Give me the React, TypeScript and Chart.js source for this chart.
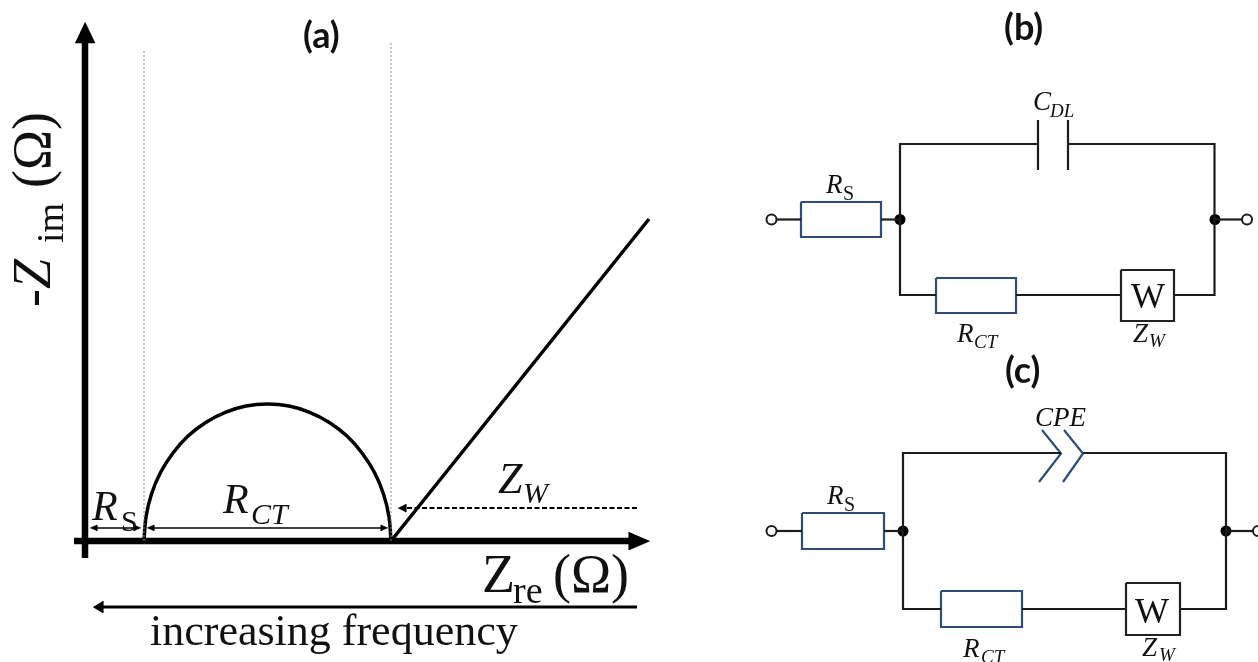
import React, { useEffect, useRef } from "react";
import { Chart, registerables } from "chart.js";

Chart.register(...registerables);

// ---- Panel (a): Nyquist plot, values in plot units (origin at the axes' crossing)
const arcZre = [59, 61, 66.5, 75.5, 88, 103, 120.7, 140.3, 161, 182.5, 204, 224.7, 244.3, 262, 277, 289.5, 298.5, 304, 306];
const arcZim = [0, 24, 47, 68.5, 88, 105, 118.6, 128.7, 135, 137, 135, 128.7, 118.6, 105, 88, 68.5, 47, 24, 0];
const warburgZre = [306, 564];
const warburgZim = [0, 322];
const xAxisZre = [-11, 546];
const xAxisZim = [0, 0];
const yAxisZre = [0, 0];
const yAxisZim = [-17, 500];
const rsGuideZre = [59, 59];
const rsGuideZim = [0, 491];
const rctGuideZre = [306, 306];
const rctGuideZim = [0, 499];

// ---- Figure-space shapes (schematic drawing, in figure units)
type P = [number, number];
const solidHeads: P[][] = [
  [[75, 43], [95, 43], [85, 22]],
  [[629, 532], [629, 550], [650, 541]],
  [[103, 601], [103, 613], [93, 607]],
  [[406, 504], [406, 512], [398, 508]],
  [[90, 528], [97, 525], [97, 531]],
  [[141, 528], [134, 525], [134, 531]],
  [[147, 528], [154, 525], [154, 531]],
  [[388, 528], [381, 525], [381, 531]],
];
const freqArrow: P[] = [[637, 607], [100, 607]];
const dashedArrow: P[] = [[637, 508], [404, 508]];
const thinArrows: P[][] = [
  [[92, 528], [139, 528]],
  [[149, 528], [386, 528]],
];

const wiresB: P[][] = [
  [[776, 219.5], [801, 219.5]],
  [[881, 219.5], [900, 219.5]],
  [[936, 295], [900, 295], [900, 144], [1038, 144]],
  [[1068, 144], [1214.5, 144], [1214.5, 295], [1174, 295]],
  [[1016, 295], [1121, 295]],
  [[1214.5, 219.5], [1243, 219.5]],
  [[1038, 120], [1038, 170]],
  [[1068, 120], [1068, 170]],
];
const wiresC: P[][] = [
  [[776, 531], [802, 531]],
  [[884, 531], [903, 531]],
  [[941, 609], [903, 609], [903, 453], [1061, 453]],
  [[1083, 453], [1226, 453], [1226, 609], [1180, 609]],
  [[1022, 609], [1126, 609]],
  [[1226, 531], [1253, 531]],
];
const resistors: P[][] = [
  [[801, 202], [881, 202], [881, 237], [801, 237], [801, 202]],
  [[936, 278], [1016, 278], [1016, 313], [936, 313], [936, 278]],
  [[802, 513], [884, 513], [884, 549], [802, 549], [802, 513]],
  [[941, 591], [1022, 591], [1022, 627], [941, 627], [941, 591]],
  [[1042, 430], [1061, 453.5], [1039, 482]],
  [[1064, 430], [1083, 453.5], [1063, 482]],
];
const warburgBoxes: P[][] = [
  [[1121, 270], [1174, 270], [1174, 321], [1121, 321], [1121, 270]],
  [[1126, 583], [1180, 583], [1180, 635], [1126, 635], [1126, 583]],
];
const junctions: P[] = [[900, 219.5], [1215, 219.5], [903, 531], [1226, 531]];
const terminals: P[] = [[771.5, 219.5], [1247, 219.5], [771.5, 531], [1258, 531]];

// ---- Text
const SERIF = '"Liberation Serif"';
const SANS = "Lato";
type T = [string, number, number, string, boolean?];
const texts: T[] = [
  ["(a)", 303, 48, `bold 36px ${SANS}`],
  ["(b)", 1004, 40, `bold 36px ${SANS}`],
  ["(c)", 1005, 383, `bold 36px ${SANS}`],
  ["-Z", 50, 307, `italic 54px ${SERIF}`, true],
  ["im", 63, 243, `38px ${SERIF}`, true],
  ["(Ω)", 50, 188, `54px ${SERIF}`, true],
  ["Z", 482, 592, `54px ${SERIF}`],
  ["re", 513, 603, `38px ${SERIF}`],
  ["(Ω)", 553, 592, `54px ${SERIF}`],
  ["increasing frequency", 150, 645, `44px ${SERIF}`],
  ["R", 92, 520, `italic 42px ${SERIF}`],
  ["S", 121, 531, `30px ${SERIF}`],
  ["R", 223, 513, `italic 42px ${SERIF}`],
  ["CT", 251, 524, `italic 30px ${SERIF}`],
  ["Z", 498, 493, `italic 44px ${SERIF}`],
  ["W", 523, 503, `italic 30px ${SERIF}`],
  ["C", 1033, 110, `italic 27px ${SERIF}`],
  ["DL", 1050, 117, `italic 19px ${SERIF}`],
  ["R", 826, 193, `italic 27px ${SERIF}`],
  ["S", 843, 200, `20px ${SERIF}`],
  ["R", 957, 342, `italic 27px ${SERIF}`],
  ["CT", 974, 348, `italic 19px ${SERIF}`],
  ["Z", 1133, 342, `italic 27px ${SERIF}`],
  ["W", 1149, 347, `italic 19px ${SERIF}`],
  ["W", 1131, 308, `36px ${SERIF}`],
  ["CPE", 1035, 426, `italic 27px ${SERIF}`],
  ["R", 827, 504, `italic 27px ${SERIF}`],
  ["S", 844, 511, `20px ${SERIF}`],
  ["R", 963, 657, `italic 27px ${SERIF}`],
  ["CT", 981, 663, `italic 19px ${SERIF}`],
  ["Z", 1142, 656, `italic 27px ${SERIF}`],
  ["W", 1159, 661, `italic 19px ${SERIF}`],
  ["W", 1135, 623, `36px ${SERIF}`],
];

const zip = (xs: number[], ys: number[]) => xs.map((x, i) => ({ x, y: ys[i] }));
const pts = (p: P[]) => p.map(([x, y]) => ({ x, y }));

const plot = (data: { x: number; y: number }[], color: string, width: number, extra: object = {}) => ({
  type: "line" as const,
  data,
  xAxisID: "x",
  yAxisID: "y",
  borderColor: color,
  borderWidth: width,
  pointRadius: 0,
  fill: false,
  tension: 0,
  clip: false,
  ...extra,
});
const fig = (p: P[], color: string, width: number, extra: object = {}) =>
  plot(pts(p), color, width, { xAxisID: "fx", yAxisID: "fy", ...extra });

const textPlugin = {
  id: "figureText",
  afterDatasetsDraw(chart: Chart) {
    const { ctx } = chart;
    ctx.save();
    ctx.fillStyle = "#111";
    ctx.textAlign = "left";
    ctx.textBaseline = "alphabetic";
    for (const [s, x, y, font, rotated] of texts) {
      ctx.save();
      ctx.font = font;
      ctx.translate(x, y);
      if (rotated) ctx.rotate(-Math.PI / 2);
      ctx.fillText(s, 0, 0);
      ctx.restore();
    }
    ctx.restore();
  },
};

const WIRE = "#1c1c1c";
const NAVY = "#2f4d78";

export default function App() {
  const ref = useRef<HTMLCanvasElement>(null);
  useEffect(() => {
    document.body.style.margin = "0";
    const chart = new Chart(ref.current as HTMLCanvasElement, {
      type: "line",
      data: {
        datasets: [
          plot(zip(rsGuideZre, rsGuideZim), "#8c8c8c", 1, { borderDash: [2, 2] }),
          plot(zip(rctGuideZre, rctGuideZim), "#8c8c8c", 1, { borderDash: [2, 2] }),
          plot(zip(yAxisZre, yAxisZim), "#000", 6.5),
          plot(zip(xAxisZre, xAxisZim), "#000", 6.5),
          plot(zip(arcZre, arcZim), "#000", 3.5, { tension: 0.4 }),
          plot(zip(warburgZre, warburgZim), "#000", 3.5),
          fig(freqArrow, "#000", 3),
          fig(dashedArrow, "#000", 2, { borderDash: [5, 2.5] }),
          ...thinArrows.map((a) => fig(a, "#000", 1.5)),
          ...solidHeads.map((h) => fig(h, "#000", 0.5, { fill: "shape", backgroundColor: "#000" })),
          ...wiresB.map((w) => fig(w, WIRE, 2.2)),
          ...wiresC.map((w) => fig(w, WIRE, 2.2)),
          ...resistors.map((r) => fig(r, NAVY, 2.2)),
          ...warburgBoxes.map((b) => fig(b, "#222", 2.2)),
          fig(junctions, "#000", 0, { showLine: false, pointRadius: 5.5, pointBackgroundColor: "#000", pointBorderWidth: 0 }),
          fig(terminals, "#000", 0, {
            showLine: false,
            pointRadius: 5,
            pointBackgroundColor: "#fff",
            pointBorderColor: "#1c1c1c",
            pointBorderWidth: 2,
          }),
        ] as any,
      },
      options: {
        responsive: false,
        animation: false,
        layout: { padding: 0, autoPadding: false },
        events: [],
        plugins: { legend: { display: false }, tooltip: { enabled: false }, title: { display: false } },
        scales: {
          x: { type: "linear", display: false, min: -85, max: 1173 },
          y: { type: "linear", display: false, min: -121, max: 541 },
          fx: { type: "linear", display: false, min: 0, max: 1258 },
          fy: { type: "linear", display: false, min: 0, max: 662, reverse: true },
        },
      },
      plugins: [textPlugin],
    } as any);
    return () => chart.destroy();
  }, []);
  return <canvas ref={ref} width={1258} height={662} style={{ display: "block", filter: "blur(0.4px)" }} />;
}
